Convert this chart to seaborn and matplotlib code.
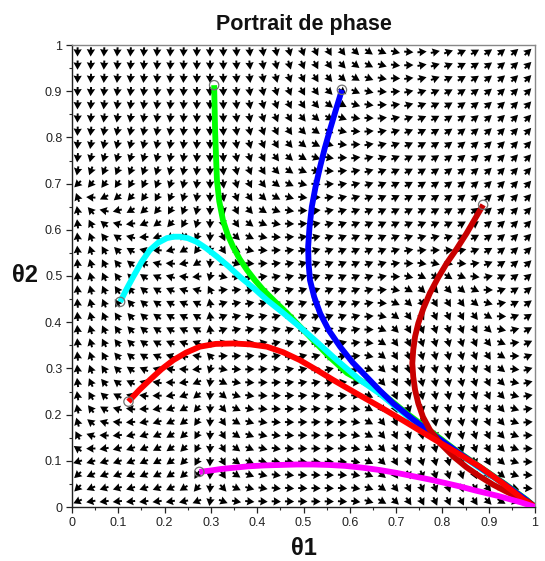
import numpy as np
import pandas as pd
import matplotlib
matplotlib.use("Agg")
import matplotlib.pyplot as plt
import seaborn as sns
from matplotlib.ticker import MultipleLocator, FuncFormatter

# ---- trajectory data ----
green_t1 = [0.307, 0.308, 0.309, 0.311, 0.313, 0.318, 0.326, 0.336, 0.348, 0.362, 0.378, 0.395, 0.413,
            0.437, 0.464, 0.491, 0.521, 0.556, 0.594, 0.630, 0.665, 0.720, 0.780, 0.830, 0.881, 0.935, 0.983, 1.0]
green_t2 = [0.913, 0.865, 0.816, 0.760, 0.708, 0.662, 0.621, 0.590, 0.563, 0.537, 0.513, 0.491, 0.470,
            0.446, 0.420, 0.392, 0.361, 0.325, 0.290, 0.270, 0.250, 0.205, 0.160, 0.122, 0.087, 0.050, 0.015, 0.0]

cyan_t1 = [0.104, 0.118, 0.132, 0.150, 0.168, 0.186, 0.205, 0.220, 0.233, 0.250, 0.269, 0.290, 0.313,
           0.338, 0.363, 0.392, 0.421, 0.456, 0.492, 0.528, 0.564, 0.594, 0.622, 0.665, 0.720, 0.780,
           0.830, 0.881, 0.935, 0.983, 1.0]
cyan_t2 = [0.444, 0.472, 0.498, 0.530, 0.556, 0.572, 0.582, 0.585, 0.585, 0.582, 0.574, 0.560, 0.542,
           0.521, 0.498, 0.474, 0.448, 0.420, 0.390, 0.358, 0.325, 0.299, 0.275, 0.245, 0.200, 0.155,
           0.119, 0.084, 0.048, 0.013, 0.0]

blue_t1 = [0.583, 0.570, 0.557, 0.546, 0.536, 0.526, 0.518, 0.513, 0.510, 0.511, 0.514, 0.523, 0.536,
           0.555, 0.579, 0.606, 0.636, 0.665, 0.694, 0.736, 0.780, 0.830, 0.881, 0.935, 0.983, 1.0]
blue_t2 = [0.903, 0.860, 0.816, 0.777, 0.737, 0.693, 0.650, 0.606, 0.563, 0.527, 0.491, 0.455, 0.419,
           0.382, 0.347, 0.313, 0.282, 0.252, 0.224, 0.190, 0.157, 0.121, 0.086, 0.049, 0.014, 0.0]

red_t1 = [0.122, 0.145, 0.168, 0.193, 0.219, 0.246, 0.276, 0.310, 0.348, 0.385, 0.421, 0.456, 0.492,
          0.528, 0.564, 0.614, 0.665, 0.719, 0.773, 0.827, 0.881, 0.932, 0.982, 1.0]
red_t2 = [0.228, 0.253, 0.275, 0.298, 0.318, 0.334, 0.347, 0.353, 0.354, 0.352, 0.347, 0.335, 0.318,
          0.297, 0.275, 0.246, 0.217, 0.185, 0.152, 0.120, 0.087, 0.050, 0.011, 0.0]

darkred_t1 = [0.888, 0.870, 0.852, 0.831, 0.809, 0.790, 0.773, 0.759, 0.748, 0.741, 0.737, 0.735, 0.737,
              0.741, 0.748, 0.758, 0.773, 0.796, 0.824, 0.852, 0.881, 0.910, 0.939, 0.965, 0.986, 1.0]
darkred_t2 = [0.654, 0.623, 0.592, 0.559, 0.527, 0.495, 0.463, 0.430, 0.398, 0.369, 0.340, 0.311, 0.282,
              0.253, 0.224, 0.195, 0.167, 0.137, 0.109, 0.086, 0.066, 0.048, 0.033, 0.020, 0.011, 0.0]

magenta_t1 = [0.275, 0.30, 0.32, 0.35, 0.38, 0.415, 0.45, 0.485, 0.52, 0.555, 0.59, 0.628, 0.665,
              0.70, 0.74, 0.775, 0.81, 0.84, 0.87, 0.895, 0.92, 0.945, 0.97, 1.0]
magenta_t2 = [0.076, 0.079, 0.082, 0.085, 0.088, 0.090, 0.091, 0.092, 0.092, 0.091, 0.089, 0.085, 0.080,
              0.074, 0.066, 0.059, 0.051, 0.044, 0.036, 0.030, 0.024, 0.017, 0.010, 0.0]

traj_names = ["green", "cyan", "blue", "darkred", "red", "magenta"]
traj_colors = ["#00ff00", "#00ffff", "#0000ff", "#c80000", "#ff0000", "#ff00ff"]
traj_data = [(green_t1, green_t2), (cyan_t1, cyan_t2), (blue_t1, blue_t2),
             (darkred_t1, darkred_t2), (red_t1, red_t2), (magenta_t1, magenta_t2)]

title = "Portrait de phase"
xlabel = "θ1"
ylabel = "θ2"

# ---- direction field model (estimated from the arrow glyphs) ----
def field(t1, t2):
    u = t1 * (t1 - 0.3) * (1 + t2)
    b = 2.0 * (t2 - 0.1) * (0.7 - t2) - 0.8 * t1 + 2.7 * t1 ** 3
    v = t2 * b - 3.0 * np.exp(-((t1 - 0.82) ** 2 / 0.012 + (t2 - 0.25) ** 2 / 0.05))
    return u, v

sns.set_style("white")
plt.rcParams["font.family"] = ["Liberation Sans", "DejaVu Sans"]

fig = plt.figure(figsize=(5.45, 5.61), dpi=100)
ax = fig.add_axes([72 / 545, 54 / 561, 463 / 545, 462 / 561])

g = np.linspace(0.012, 0.985, 35)
X, Y = np.meshgrid(g, g)
U, V = field(X, Y)
n = np.hypot(U, V)
n[n == 0] = 1
U, V = U / n, V / n
ax.quiver(X, Y, U, V, angles="xy", scale_units="xy", scale=50, pivot="mid",
          color="black", width=0.0042, headwidth=4.3, headlength=3.8,
          headaxislength=3.5, zorder=2)

rows = []
for name, (t1, t2) in zip(traj_names, traj_data):
    for i, (a, b) in enumerate(zip(t1, t2)):
        rows.append({"traj": name, "order": i, "theta1": a, "theta2": b})
df = pd.DataFrame(rows)

sns.lineplot(data=df, x="theta1", y="theta2", hue="traj", hue_order=traj_names,
             palette=dict(zip(traj_names, traj_colors)), sort=False,
             estimator=None, units="traj", linewidth=4.2, legend=False, ax=ax,
             zorder=3, solid_joinstyle="round", solid_capstyle="butt")

starts = pd.DataFrame({"theta1": [t[0][0] for t in traj_data],
                       "theta2": [t[1][0] for t in traj_data]})
ax.scatter(starts["theta1"], starts["theta2"], s=45, facecolors="none",
           edgecolors="#707070", linewidths=0.9, zorder=4)

ax.set_xlim(0, 1)
ax.set_ylim(0, 1)
ax.xaxis.set_major_locator(MultipleLocator(0.1))
ax.yaxis.set_major_locator(MultipleLocator(0.1))
ax.xaxis.set_minor_locator(MultipleLocator(0.05))
ax.yaxis.set_minor_locator(MultipleLocator(0.05))
fmt = FuncFormatter(lambda v, p: "0" if abs(v) < 1e-9 else ("1" if abs(v - 1) < 1e-9 else f"{v:.1f}"))
ax.xaxis.set_major_formatter(fmt)
ax.yaxis.set_major_formatter(fmt)
ax.tick_params(axis="both", which="major", direction="out", length=4, width=0.9,
               labelsize=9, colors="#222222", pad=3,
               bottom=True, left=True, top=False, right=False)
ax.tick_params(axis="both", which="minor", direction="out", length=2.5, width=0.8,
               bottom=True, left=True, top=False, right=False)

for s in ["left", "bottom"]:
    ax.spines[s].set_color("#222222")
    ax.spines[s].set_linewidth(1.0)
for s in ["top", "right"]:
    ax.spines[s].set_color("#888888")
    ax.spines[s].set_linewidth(1.0)

ax.set_title(title, fontsize=15.5, fontweight="bold", pad=11, color="#111111")
ax.set_xlabel(xlabel, fontsize=17, fontweight="bold", labelpad=6, color="#111111")
ax.set_ylabel(ylabel, fontsize=17, fontweight="bold", rotation=0, labelpad=14,
              color="#111111", va="center")

fig.savefig("out.png", dpi=100, facecolor="white")
